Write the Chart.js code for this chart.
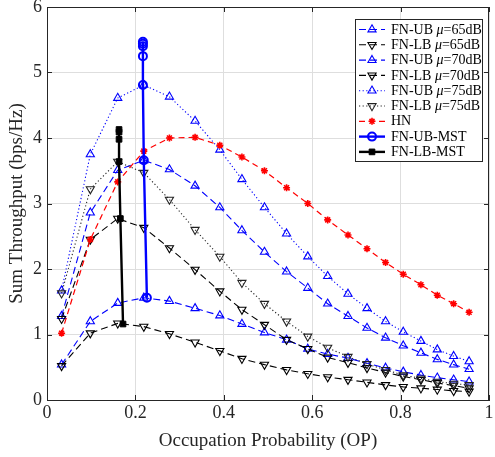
<!DOCTYPE html>
<html><head><meta charset="utf-8">
<script src="https://cdn.jsdelivr.net/npm/chart.js@4.4.0/dist/chart.umd.min.js"></script>
<style>html,body{margin:0;padding:0;background:#fff;}#wrap{width:495px;height:457px;}</style>
</head><body><div id="wrap"><canvas id="c" width="495" height="457"></canvas></div>
<script>
// Occupation probability (x) shared by the curves
const op = [0.033, 0.098, 0.160, 0.219, 0.277, 0.335, 0.391, 0.441, 0.492, 0.542, 0.590, 0.635, 0.681, 0.724, 0.766, 0.806, 0.846, 0.883, 0.920, 0.955];
const ub65 = [0.54, 1.20, 1.48, 1.56, 1.51, 1.40, 1.29, 1.16, 1.03, 0.92, 0.78, 0.70, 0.64, 0.56, 0.49, 0.43, 0.38, 0.34, 0.31, 0.28];
const lb65 = [0.52, 1.02, 1.17, 1.12, 1.01, 0.88, 0.75, 0.63, 0.54, 0.46, 0.40, 0.35, 0.31, 0.27, 0.23, 0.20, 0.18, 0.16, 0.14, 0.13];
const ub70 = [1.28, 2.86, 3.51, 3.66, 3.52, 3.27, 2.94, 2.59, 2.26, 1.96, 1.71, 1.47, 1.28, 1.10, 0.95, 0.83, 0.72, 0.62, 0.54, 0.47];
const lb70 = [1.24, 2.45, 2.77, 2.63, 2.32, 1.99, 1.66, 1.38, 1.15, 0.92, 0.78, 0.65, 0.57, 0.49, 0.42, 0.36, 0.31, 0.26, 0.22, 0.18];
const ub75 = [1.67, 3.75, 4.61, 4.81, 4.63, 4.26, 3.82, 3.37, 2.94, 2.54, 2.19, 1.89, 1.62, 1.40, 1.20, 1.04, 0.90, 0.77, 0.67, 0.59];
const lb75 = [1.63, 3.22, 3.64, 3.47, 3.06, 2.60, 2.19, 1.79, 1.47, 1.20, 0.97, 0.80, 0.66, 0.55, 0.46, 0.38, 0.33, 0.28, 0.25, 0.23];
const hn   = [1.02, 2.45, 3.33, 3.80, 4.00, 4.01, 3.89, 3.71, 3.50, 3.24, 3.00, 2.75, 2.52, 2.31, 2.10, 1.92, 1.76, 1.60, 1.47, 1.34];
// Maximum sum throughput (MST) points
const ubMstOp = [0.226, 0.219, 0.217, 0.217, 0.217, 0.217, 0.217];
const ubMst   = [1.56, 3.66, 4.81, 5.25, 5.40, 5.44, 5.47];
const lbMstOp = [0.172, 0.166, 0.163, 0.163, 0.163, 0.163];
const lbMst   = [1.16, 2.77, 3.64, 3.98, 4.09, 4.13];
// Legend labels [prefix, italic part, suffix]
const legendLabels = [
  ['FN-UB ', 'μ', '=65dB'], ['FN-LB ', 'μ', '=65dB'],
  ['FN-UB ', 'μ', '=70dB'], ['FN-LB ', 'μ', '=70dB'],
  ['FN-UB ', 'μ', '=75dB'], ['FN-LB ', 'μ', '=75dB'],
  ['HN', '', ''], ['FN-UB-MST', '', ''], ['FN-LB-MST', '', '']
];
const xLabel = 'Occupation Probability (OP)';
const yLabel = 'Sum Throughput (bps/Hz)';

const SERIF = '"Liberation Serif", "Times New Roman", serif';
const AX = '#262626';
const BLUE = '#0000ff', BLACK = '#000000', RED = '#ff0000';
const DASH = [7, 4], DOT = [1.2, 2.4];

function pts(xs, ys) { return xs.map((x, i) => ({x: x, y: ys[i]})); }
function ds(label, xs, ys, color, dash, style, rot, r, lw, pbw, fill, order) {
  return {
    label: label, data: pts(xs, ys), showLine: true,
    borderColor: color, borderWidth: lw, borderDash: dash,
    pointStyle: style, pointRotation: rot, pointRadius: r, pointHoverRadius: r,
    pointBorderColor: color, pointBackgroundColor: fill, pointBorderWidth: pbw,
    tension: 0, order: order
  };
}
const TR = 4.7;
const datasets = [
  ds('FN-UB 65', op, ub65, BLUE, DASH, 'triangle', 0, TR, 1.1, 1.1, 'rgba(0,0,0,0)', 9),
  ds('FN-LB 65', op, lb65, BLACK, DASH, 'triangle', 180, TR, 1.1, 1.1, 'rgba(0,0,0,0)', 8),
  ds('FN-UB 70', op, ub70, BLUE, DASH, 'triangle', 0, TR, 1.1, 1.1, 'rgba(0,0,0,0)', 7),
  ds('FN-LB 70', op, lb70, BLACK, DASH, 'triangle', 180, TR, 1.1, 1.1, 'rgba(0,0,0,0)', 6),
  ds('FN-UB 75', op, ub75, BLUE, DOT, 'triangle', 0, TR, 1.1, 1.1, 'rgba(0,0,0,0)', 5),
  ds('FN-LB 75', op, lb75, '#222222', DOT, 'triangle', 180, TR, 1.1, 1.1, 'rgba(0,0,0,0)', 4),
  ds('HN', op, hn, RED, [6, 4], 'star', 0, 3.5, 1.2, 1.6, RED, 3),
  ds('FN-UB-MST', ubMstOp, ubMst, BLUE, [], 'circle', 0, 4, 2.4, 2, 'rgba(0,0,0,0)', 2),
  ds('FN-LB-MST', lbMstOp, lbMst, BLACK, [], 'rect', 0, 4, 2.4, 1, BLACK, 1)
];

const framePlugin = {
  id: 'frame',
  afterDraw(chart) {
    const ctx = chart.ctx, a = chart.chartArea;
    const xs = chart.scales.x, ys = chart.scales.y;
    ctx.save();
    ctx.strokeStyle = AX; ctx.lineWidth = 1;
    ctx.beginPath();
    ctx.rect(Math.round(a.left) + 0.5, Math.round(a.top) + 0.5, Math.round(a.right - a.left) - 1, Math.round(a.bottom - a.top));
    xs.ticks.forEach(t => {
      const px = Math.round(xs.getPixelForValue(t.value)) + 0.5;
      ctx.moveTo(px, a.bottom); ctx.lineTo(px, a.bottom - 5);
      ctx.moveTo(px, a.top); ctx.lineTo(px, a.top + 5);
    });
    ys.ticks.forEach(t => {
      const py = Math.round(ys.getPixelForValue(t.value)) + 0.5;
      ctx.moveTo(a.left, py); ctx.lineTo(a.left + 5, py);
      ctx.moveTo(a.right, py); ctx.lineTo(a.right - 5, py);
    });
    ctx.stroke();
    ctx.restore();

    // legend box
    const bx = 355, by = 19, bw = 127, bh = 142;
    ctx.save();
    ctx.fillStyle = '#ffffff'; ctx.fillRect(bx, by, bw, bh);
    ctx.strokeStyle = AX; ctx.lineWidth = 1; ctx.strokeRect(bx + 0.5, by + 0.5, bw, bh);
    chart.data.datasets.forEach((d, i) => {
      const cy = by + 10.5 + i * 15.3;
      ctx.save();
      ctx.strokeStyle = d.borderColor; ctx.lineWidth = d.borderWidth;
      ctx.setLineDash(d.borderDash || []);
      ctx.beginPath(); ctx.moveTo(359, cy); ctx.lineTo(385, cy); ctx.stroke();
      ctx.setLineDash([]);
      ctx.strokeStyle = d.pointBorderColor; ctx.fillStyle = d.pointBackgroundColor;
      ctx.lineWidth = d.pointBorderWidth;
      Chart.helpers.drawPoint(ctx, {pointStyle: d.pointStyle, rotation: d.pointRotation, radius: d.pointRadius, borderWidth: d.pointBorderWidth}, 372, cy);
      ctx.restore();
      const parts = legendLabels[i];
      ctx.fillStyle = '#000'; ctx.textBaseline = 'middle'; ctx.textAlign = 'left';
      let tx = 391;
      ctx.font = '14px ' + SERIF; ctx.fillText(parts[0], tx, cy + 0.5); tx += ctx.measureText(parts[0]).width;
      if (parts[1]) { ctx.font = 'italic 14px ' + SERIF; ctx.fillText(parts[1], tx, cy + 0.5); tx += ctx.measureText(parts[1]).width; }
      if (parts[2]) { ctx.font = '14px ' + SERIF; ctx.fillText(parts[2], tx, cy + 0.5); }
    });
    ctx.restore();
  }
};

new Chart(document.getElementById('c'), {
  type: 'scatter',
  data: {datasets: datasets},
  options: {
    responsive: false, animation: false, devicePixelRatio: 1,
    layout: {padding: {top: 7, right: 1, left: 0, bottom: 0}},
    plugins: {legend: {display: false}, tooltip: {enabled: false}},
    scales: {
      x: {
        type: 'linear', min: 0, max: 1,
        ticks: {stepSize: 0.2, color: AX, font: {family: SERIF, size: 18}, padding: 2, maxRotation: 0,
                callback: v => String(Number(v.toFixed(2)))},
        grid: {color: '#dedede', drawTicks: false},
        border: {display: true, color: AX},
        title: {display: true, text: xLabel, color: AX, font: {family: SERIF, size: 19}, padding: {top: 0, bottom: 5}},
        afterFit(s) { s.height = 57; s.paddingLeft = 0; s.paddingRight = 0; }
      },
      y: {
        type: 'linear', min: 0, max: 6,
        ticks: {stepSize: 1, color: AX, font: {family: SERIF, size: 18}, padding: 5,
                callback: v => String(Number(v.toFixed(2)))},
        grid: {color: '#dedede', drawTicks: false},
        border: {display: true, color: AX},
        title: {display: true, text: yLabel, color: AX, font: {family: SERIF, size: 19}, padding: {top: 6, bottom: 0}},
        afterFit(s) { s.width = 47; s.paddingTop = 0; s.paddingBottom = 0; }
      }
    }
  },
  plugins: [framePlugin]
});
</script></body></html>
